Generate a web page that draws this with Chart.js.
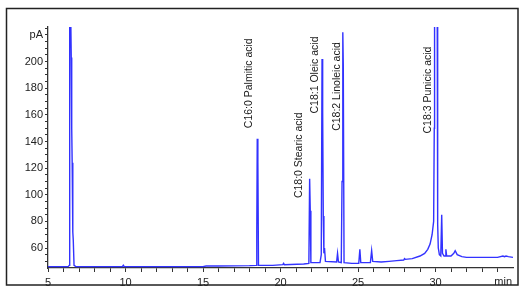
<!DOCTYPE html>
<html>
<head>
<meta charset="utf-8">
<script src="https://cdn.jsdelivr.net/npm/chart.js@4/dist/chart.umd.min.js"></script>
<style>
html,body{margin:0;padding:0;background:#fff;}
#wrap{position:relative;width:528px;height:296px;}
</style>
</head>
<body>
<div id="wrap"><canvas id="c" width="528" height="296"></canvas></div>
<script>
// Retention time (min) and detector signal (pA)
const times  = [5.0, 6.30, 6.37, 6.40, 6.46, 6.50, 6.53, 6.56, 6.60, 6.63, 6.68, 6.80, 9.80, 9.86, 9.92,
  15.0, 15.2, 16.0, 18.0, 18.43, 18.47, 18.50, 18.54, 18.58, 19.5, 20.15, 20.2, 20.25, 21.5, 21.83, 21.88, 21.92, 21.96,
  22.55, 22.63, 22.68, 22.72, 22.76, 22.80, 22.84, 22.90, 23.62, 23.68, 23.74, 23.92, 23.97, 24.02, 24.05, 24.10,
  24.6, 25.05, 25.12, 25.18, 25.80, 25.88, 25.95, 26.5, 27.0, 27.5, 27.95, 28.0, 28.05, 28.5, 29.0, 29.3, 29.5, 29.65,
  29.78, 29.88, 29.92, 29.94, 30.11, 30.14, 30.18, 30.25, 30.34, 30.40, 30.45, 30.55, 30.63, 30.67, 30.72, 31.0,
  31.18, 31.27, 31.40, 31.7, 32.0, 33.0, 34.0, 34.35, 34.45, 34.55, 34.7, 35.0];
const signal = [46, 46, 47, 240, 240, 203, 150, 124, 72, 66, 47, 46, 46, 47, 46,
  46, 46.5, 46.5, 46.8, 47, 72, 142, 125, 47, 47, 47.5, 48.5, 47.5, 48, 48.5, 112, 88, 49,
  49, 55, 202, 162, 84, 56, 60, 50, 49.5, 56, 49.5, 49, 110, 222, 198, 49,
  48.5, 48.5, 59, 49, 49, 58, 50, 49.5, 50, 50.5, 51, 52, 51.5, 52, 54, 56, 59, 63,
  70, 80, 150, 240, 240, 78, 60, 55, 54, 85, 56, 54, 54, 59, 54, 54,
  56, 58, 55, 53.5, 53, 53, 53, 54, 53.5, 54, 53.5, 53];

const xMin = 5, xMax = 35, xMajorStep = 5, xMinorStep = 1;
const yMin = 45, yMax = 226, yMajorLabels = [60, 80, 100, 120, 140, 160, 180, 200], yMinorStep = 5;
const yUnitValue = 220, yUnitLabel = 'pA', xUnitLabel = 'min';

// Peak annotations: name, label x position (min), y value where the text starts
const peakNames      = ['C16:0 Palmitic acid', 'C18:0 Stearic acid', 'C18:1 Oleic acid', 'C18:2 Linoleic acid', 'C18:3 Punicic acid'];
const peakLabelTimes = [17.97, 21.20, 22.23, 23.65, 29.53];
const peakLabelStart = [150, 97.5, 161, 148, 146];

const points = times.map((t, i) => ({x: t, y: signal[i]}));
const tickFont = {family: "'Liberation Sans Narrow', 'Arial Narrow', 'Liberation Sans', Arial, sans-serif", size: 11};

const decorations = {
  id: 'decorations',
  afterDraw(chart) {
    const ctx = chart.ctx, xs = chart.scales.x, ys = chart.scales.y;
    ctx.save();
    // annotation labels
    ctx.fillStyle = '#1a1a1a';
    ctx.font = "10.5px 'Liberation Sans', Arial, sans-serif";
    ctx.textAlign = 'left';
    ctx.textBaseline = 'middle';
    peakNames.forEach((name, i) => {
      const px = xs.getPixelForValue(peakLabelTimes[i]);
      const py = ys.getPixelForValue(peakLabelStart[i]);
      ctx.save();
      ctx.translate(px, py);
      ctx.rotate(-Math.PI / 2);
      ctx.fillText(name, 0, 0);
      ctx.restore();
    });
    // x unit label
    ctx.font = "11px " + tickFont.family;
    ctx.textAlign = 'right';
    ctx.textBaseline = 'middle';
    ctx.fillStyle = '#222';
    ctx.fillText(xUnitLabel, xs.right - 1, 282);
    // outer frame
    ctx.strokeStyle = '#222';
    ctx.lineWidth = 1.5;
    ctx.strokeRect(6.5, 8.5, 511.5, 276.5);
    ctx.restore();
  }
};

new Chart(document.getElementById('c'), {
  type: 'scatter',
  data: {
    datasets: [{
      data: points,
      showLine: true,
      borderColor: 'rgb(50,50,255)',
      borderWidth: 1.4,
      pointRadius: 0,
      tension: 0
    }]
  },
  options: {
    responsive: false,
    animation: false,
    events: [],
    layout: {padding: {left: 0, top: 27, right: 15, bottom: 0}},
    plugins: {legend: {display: false}, tooltip: {enabled: false}},
    scales: {
      x: {
        type: 'linear', min: xMin, max: xMax,
        afterFit(s) { s.height = 28; },
        afterBuildTicks(s) {
          const t = [];
          for (let v = xMin; v < xMax; v += xMinorStep) t.push({value: v});
          s.ticks = t;
        },
        ticks: {
          autoSkip: false, maxRotation: 0, padding: 4, color: '#222', font: tickFont,
          callback: v => (v % xMajorStep === 0 ? String(v) : '')
        },
        grid: {drawOnChartArea: false, drawTicks: true, tickLength: 4, color: '#333', tickColor: '#333'},
        border: {display: true, color: '#333', width: 1.3}
      },
      y: {
        type: 'linear', min: yMin, max: yMax,
        afterFit(s) { s.width = 48; },
        afterBuildTicks(s) {
          const t = [];
          for (let v = yMin + yMinorStep; v <= yMax; v += yMinorStep) t.push({value: v});
          s.ticks = t;
        },
        ticks: {
          autoSkip: false, padding: 2, color: '#222', font: tickFont,
          callback: v => (v === yUnitValue ? yUnitLabel : (yMajorLabels.includes(v) ? String(v) : ''))
        },
        grid: {drawOnChartArea: false, drawTicks: true, tickLength: 3, color: '#333', tickColor: '#333'},
        border: {display: true, color: '#333', width: 1.3}
      }
    }
  },
  plugins: [decorations]
});
</script>
</body>
</html>
